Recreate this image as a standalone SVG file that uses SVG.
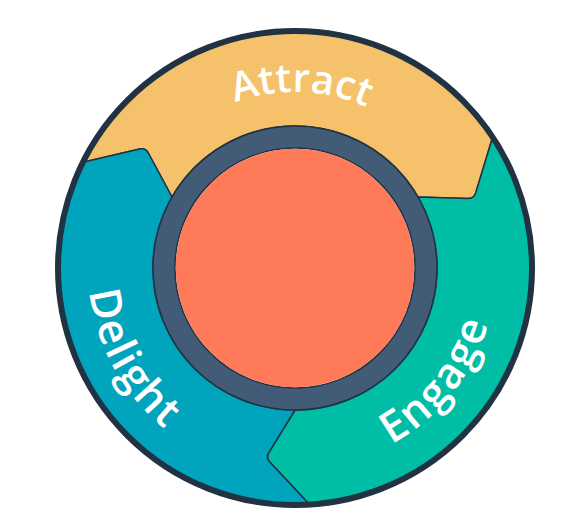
<svg xmlns="http://www.w3.org/2000/svg" xmlns:xlink="http://www.w3.org/1999/xlink" width="569" height="530" viewBox="0 0 569 530">
  <style>
    .seg { stroke: #213343; stroke-width: 1.5; stroke-linejoin: round; }
    .lbl { fill: #ffffff; font-family: "Open Sans", "Liberation Sans", sans-serif; font-weight: 600; font-size: 43px; letter-spacing: 2px; }
    .outline { fill: none; stroke: #213343; stroke-width: 1.5; }
  </style>
  <defs>
    <path id="pAttract" d="M 145.8 174.7 A 176 176 0 0 1 450.4 185.4"/>
    <path id="pDelight" d="M 117.6 161.4 A 207 207 0 0 0 291.4 475.0"/>
    <path id="pEngage" d="M 265.3 466.8 A 201 201 0 0 0 482.0 194.3"/>
  </defs>
  <rect width="569" height="530" fill="#ffffff"/>

  <g id="attract">
    <path class="seg" fill="#f5c26b" d="M 172.0 197.0 L 148.3 153.0 Q 145.4 147.7 139.6 149.1 L 82.9 162.3 A 237 237 0 0 1 492.6 137.2 L 475.7 192.9 Q 474.0 198.6 468.0 198.4 L 418.0 197.0 A 142 142 0 0 0 172.0 197.0 Z"/>
    <text class="lbl" style="font-size:40px;letter-spacing:0"><textPath xlink:href="#pAttract" href="#pAttract" startOffset="50%" text-anchor="middle">Attract</textPath></text>
  </g>

  <g id="engage">
    <path class="seg" fill="#00bda5" d="M 418.0 197.0 L 468.0 198.4 Q 474.0 198.6 475.7 192.9 L 492.6 137.2 A 237 237 0 0 1 309.5 504.6 L 269.7 462.1 Q 265.6 457.7 268.8 452.6 L 295.0 410.0 A 142 142 0 0 0 418.0 197.0 Z"/>
    <text class="lbl"><textPath xlink:href="#pEngage" href="#pEngage" startOffset="50%" text-anchor="middle">Engage</textPath></text>
  </g>

  <g id="delight">
    <path class="seg" fill="#00a4bd" d="M 295.0 410.0 L 268.8 452.6 Q 265.6 457.7 269.7 462.1 L 309.5 504.6 A 237 237 0 0 1 82.9 162.3 L 139.6 149.1 Q 145.4 147.7 148.3 153.0 L 172.0 197.0 A 142 142 0 0 0 295.0 410.0 Z"/>
    <text class="lbl"><textPath xlink:href="#pDelight" href="#pDelight" startOffset="50%" text-anchor="middle">Delight</textPath></text>
  </g>

  <g id="core">
    <circle cx="295" cy="268" r="131" fill="none" stroke="#425b76" stroke-width="22"/>
    <circle class="outline" cx="295" cy="268" r="142"/>
    <circle class="outline" cx="295" cy="268" r="120"/>
    <circle cx="295" cy="268" r="119.3" fill="#ff7a59"/>
  </g>

  <g id="rim">
    <circle cx="295" cy="268" r="237" fill="none" stroke="#213343" stroke-width="6"/>
  </g>
</svg>
